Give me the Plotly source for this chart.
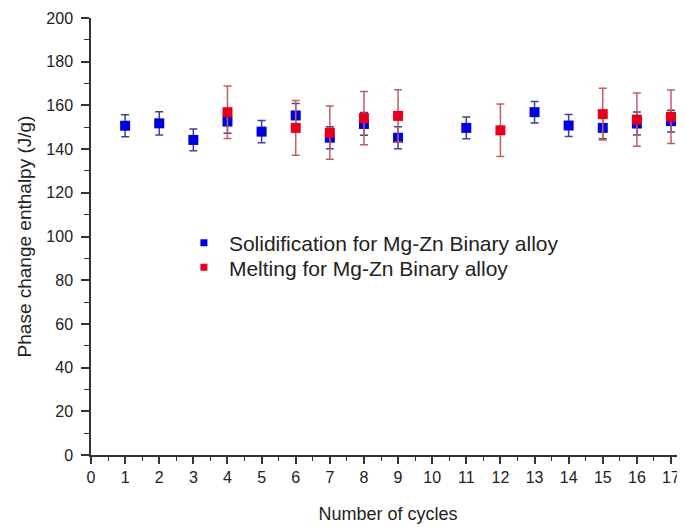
import plotly.graph_objects as go

# Data
solid_cycles = [1, 2, 3, 4, 5, 6, 7, 8, 9, 11, 13, 14, 15, 16, 17]
solid_values = [150.7, 151.8, 144.2, 152.6, 148.0, 155.4, 145.2, 151.5, 145.2, 149.7, 156.9, 150.8, 149.7, 151.7, 152.8]
solid_errors = [5.0, 5.3, 5.0, 5.3, 5.1, 5.5, 5.0, 5.2, 5.0, 5.0, 4.9, 5.0, 5.0, 5.3, 5.0]

melt_cycles = [4, 6, 7, 8, 9, 12, 15, 16, 17]
melt_values = [156.9, 149.7, 147.5, 154.2, 155.2, 148.6, 156.0, 153.5, 154.8]
melt_errors = [12.0, 12.5, 12.2, 12.2, 12.0, 12.0, 11.8, 12.2, 12.2]

x_ticks = list(range(0, 18))
y_ticks = list(range(0, 201, 20))

solid_name = "Solidification for Mg-Zn Binary alloy"
melt_name = "Melting for Mg-Zn Binary alloy"

BLUE = "#0000e0"
RED = "#e8001a"
FONT = "Liberation Sans, Arial, sans-serif"

fig = go.Figure()

fig.add_trace(go.Scatter(
    x=solid_cycles, y=solid_values, mode="markers", showlegend=False,
    marker=dict(symbol="square", size=10, color=BLUE),
    error_y=dict(type="data", array=solid_errors, visible=True,
                 color="#40409a", thickness=1.5, width=4),
))
fig.add_trace(go.Scatter(
    x=melt_cycles, y=melt_values, mode="markers", showlegend=False,
    marker=dict(symbol="square", size=10, color=RED),
    error_y=dict(type="data", array=melt_errors, visible=True,
                 color="#c06060", thickness=1.5, width=4),
))

# legend entries (smaller symbols as in the reference), one legend per row
fig.add_trace(go.Scatter(x=[None], y=[None], mode="markers", name=solid_name,
                         legend="legend",
                         marker=dict(symbol="square", size=7, color=BLUE)))
fig.add_trace(go.Scatter(x=[None], y=[None], mode="markers", name=melt_name,
                         legend="legend2",
                         marker=dict(symbol="square", size=7, color=RED)))

axis_color = "#333333"
leg_common = dict(xanchor="left", yanchor="middle", bgcolor="rgba(0,0,0,0)",
                  font=dict(size=21, family=FONT, color="#222222"), itemwidth=40)
fig.update_layout(
    width=677, height=519,
    margin=dict(l=83, r=0, t=10, b=72),
    paper_bgcolor="white", plot_bgcolor="white",
    font=dict(family=FONT, color="#222222"),
    legend=dict(x=0.148, y=0.485, **leg_common),
    legend2=dict(x=0.148, y=0.4286, **leg_common),
    xaxis=dict(range=[0, 17.41], tickmode="array", tickvals=x_ticks,
               ticktext=[str(v) for v in x_ticks], automargin=False,
               showgrid=False, zeroline=False, showline=True,
               linecolor=axis_color, linewidth=1.5,
               ticks="outside", ticklen=7, tickwidth=1.5, tickcolor=axis_color,
               minor=dict(ticks="outside", ticklen=4, dtick=0.5, tickwidth=1.2,
                          tickcolor=axis_color, showgrid=False),
               tickfont=dict(size=16, family=FONT, color="#222222"),
               title=dict(text="Number of cycles", font=dict(size=18, family=FONT),
                          standoff=22)),
    yaxis=dict(range=[0, 200], tickmode="array", tickvals=y_ticks,
               ticktext=[str(v) for v in y_ticks], automargin=False,
               showgrid=False, zeroline=False, showline=True,
               linecolor=axis_color, linewidth=1.5,
               ticks="outside", ticklen=8, tickwidth=1.5, tickcolor=axis_color,
               minor=dict(ticks="outside", ticklen=5, dtick=10, tickwidth=1.2,
                          tickcolor=axis_color, showgrid=False),
               tickfont=dict(size=16, family=FONT, color="#222222"),
               ticklabelstandoff=5,
               title=dict(text="Phase change enthalpy (J/g)",
                          font=dict(size=19, family=FONT), standoff=10)),
)

fig.write_html("out.html")
